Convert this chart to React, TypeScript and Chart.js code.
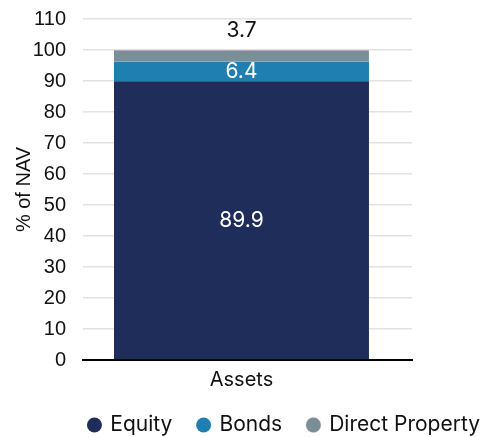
import React, { useEffect, useRef } from "react";
import { Chart, registerables } from "chart.js";

Chart.register(...registerables);

const categories = ["Assets"];
const seriesNames = ["Equity", "Bonds", "Direct Property"];
const equityValues = [89.9];
const bondsValues = [6.4];
const propertyValues = [3.7];
const yTicks = [0, 10, 20, 30, 40, 50, 60, 70, 80, 90, 100, 110];

const FONT = "Inter, 'Liberation Sans', Arial, sans-serif";
const TITLE_FONT = "'Liberation Sans', Arial, sans-serif";

const toPoints = (vals: number[]) => vals.map((v, i) => ({ x: i, y: v }));

const labelPlugin = {
  id: "barLabels",
  afterDatasetsDraw(chart: any) {
    const ctx = chart.ctx;
    chart.data.datasets.forEach((ds: any, i: number) => {
      const meta = chart.getDatasetMeta(i);
      meta.data.forEach((el: any, j: number) => {
        const v = ds.data[j].y;
        const outside = ds.labelOutside;
        const x = el.x;
        const y = outside ? el.y - 19 : (el.y + el.base) / 2;
        ctx.save();
        ctx.font = `21px ${FONT}`;
        ctx.fillStyle = outside ? "#111111" : "#ffffff";
        ctx.textAlign = "center";
        ctx.textBaseline = "middle";
        ctx.fillText(String(v), x, y);
        ctx.restore();
      });
    });
  },
};

export default function App() {
  const ref = useRef<HTMLCanvasElement | null>(null);
  useEffect(() => {
    document.body.style.margin = "0";
    if (!ref.current) return;
    const chart = new Chart(ref.current, {
      type: "bar",
      data: {
        datasets: [
          { label: seriesNames[0], data: toPoints(equityValues), backgroundColor: "#1f2d5a", labelOutside: false } as any,
          { label: seriesNames[1], data: toPoints(bondsValues), backgroundColor: "#1f7fb0", labelOutside: false } as any,
          {
            label: seriesNames[2],
            data: toPoints(propertyValues),
            backgroundColor: "#7a8e95",
            borderColor: "#b4a6c6",
            borderWidth: { top: 1, left: 0, right: 0, bottom: 0 },
            borderSkipped: false,
            labelOutside: true,
          } as any,
        ],
      },
      options: {
        animation: false,
        responsive: false,
        maintainAspectRatio: false,
        layout: { padding: { top: 19, right: -10, bottom: -8.5, left: 0 } },
        datasets: { bar: { barPercentage: 0.775, categoryPercentage: 1 } },
        scales: {
          x: {
            type: "linear",
            stacked: true,
            min: -0.5,
            max: 0.538,
            offset: false,
            afterBuildTicks: (s: any) => {
              s.ticks = categories.map((_, i) => ({ value: i }));
            },
            afterFit: (s: any) => {
              s.height = 28.5;
            },
            grid: { display: false, drawTicks: false },
            border: { display: true, color: "#000000", width: 2 },
            ticks: {
              color: "#111111",
              font: { family: FONT, size: 20, lineHeight: 1 },
              padding: 10,
              callback: (v: any) => categories[v] ?? "",
            },
          },
          y: {
            stacked: true,
            min: 0,
            max: 110,
            afterBuildTicks: (s: any) => {
              s.ticks = yTicks.map((v) => ({ value: v }));
            },
            afterFit: (s: any) => {
              s.width = 83;
            },
            grid: {
              color: "#e2e2e2",
              lineWidth: 1.5,
              drawTicks: true,
              tickLength: 17,
              tickColor: "rgba(0,0,0,0)",
            },
            border: { display: false },
            ticks: { color: "#111111", font: { family: TITLE_FONT, size: 20 }, padding: 0 },
            title: {
              display: true,
              text: "% of NAV",
              color: "#111111",
              font: { family: TITLE_FONT, size: 20 },
              padding: { top: 12, bottom: 0 },
            },
          },
          y2: {
            position: "right",
            display: true,
            grid: { display: false },
            border: { display: false },
            ticks: { display: false },
            afterFit: (s: any) => {
              s.width = 94;
            },
          },
        },
        plugins: {
          legend: {
            position: "bottom",
            align: "end",
            labels: {
              usePointStyle: true,
              pointStyle: "circle",
              boxHeight: 10.6,
              boxWidth: 10.6,
              padding: 26,
              color: "#111111",
              font: { family: FONT, size: 21 },
            },
          },
          tooltip: { enabled: false },
        },
      } as any,
      plugins: [labelPlugin],
    });
    return () => chart.destroy();
  }, []);
  return (
    <div style={{ width: 496, height: 437 }}>
      <canvas ref={ref} width={496} height={437} style={{ width: 496, height: 437 }} />
    </div>
  );
}
